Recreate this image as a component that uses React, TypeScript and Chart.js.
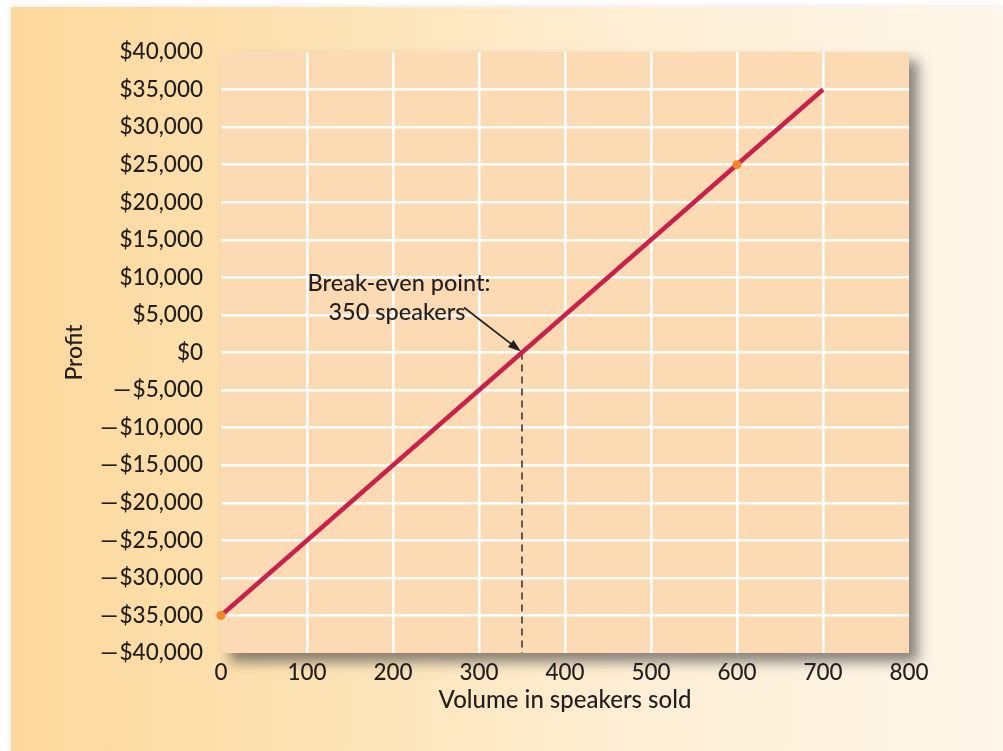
import React, { useEffect, useRef } from "react";
import { Chart, registerables } from "chart.js";

Chart.register(...registerables);

// ---- data ----
const lineVolumes = [0, 700];
const lineProfits = [-35000, 35000];
const markerVolumes = [0, 600];
const markerProfits = [-35000, 25000];
const breakEvenVolume = 350;
const breakEvenProfit = 0;
const yMin = -40000;
const yMax = 40000;
const xMin = 0;
const xMax = 800;
const annotationLines = ["Break-even point:", "350 speakers"];
const xTitle = "Volume in speakers sold";
const yTitle = "Profit";

const FONT = "Lato, 'Open Sans', sans-serif";
const TEXT = "#231F20";
const PLOT_FILL = "#FCDAB3";

function fmt(v: number): string {
  const s = Math.abs(v).toLocaleString("en-US");
  return v < 0 ? "\u2014\u200A$" + s : "$" + s;
}

const plotBgPlugin = {
  id: "plotBg",
  beforeDraw(chart: any) {
    const { ctx, chartArea } = chart;
    const { left, top, right, bottom } = chartArea;
    ctx.save();
    ctx.shadowColor = "rgba(70,70,70,0.65)";
    ctx.shadowBlur = 12;
    ctx.shadowOffsetX = 9;
    ctx.shadowOffsetY = 9;
    ctx.fillStyle = PLOT_FILL;
    ctx.fillRect(left, top, right - left, bottom - top);
    ctx.restore();
    ctx.save();
    ctx.fillStyle = PLOT_FILL;
    ctx.fillRect(left, top, right - left, bottom - top);
    ctx.restore();
  },
};

const annotationPlugin = {
  id: "breakEvenNote",
  afterDatasetsDraw(chart: any) {
    const { ctx, scales } = chart;
    const px = scales.x.getPixelForValue(breakEvenVolume);
    const py = scales.y.getPixelForValue(breakEvenProfit);
    ctx.save();
    ctx.fillStyle = TEXT;
    ctx.font = `500 23.5px ${FONT}`;
    ctx.textAlign = "center";
    ctx.textBaseline = "middle";
    ctx.fillText(annotationLines[0], px - 123, py - 69);
    ctx.fillText(annotationLines[1], px - 125, py - 40);
    // arrow
    const sx = px - 58;
    const sy = py - 45;
    const ang = Math.atan2(py - sy, px - sx);
    const ex = px - 1;
    const ey = py - 1;
    ctx.strokeStyle = TEXT;
    ctx.lineWidth = 1.8;
    ctx.beginPath();
    ctx.moveTo(sx, sy);
    ctx.lineTo(ex - 8 * Math.cos(ang), ey - 8 * Math.sin(ang));
    ctx.stroke();
    const hl = 13;
    const hw = 4.5;
    ctx.beginPath();
    ctx.moveTo(ex, ey);
    ctx.lineTo(
      ex - hl * Math.cos(ang) + hw * Math.sin(ang),
      ey - hl * Math.sin(ang) - hw * Math.cos(ang)
    );
    ctx.lineTo(
      ex - hl * Math.cos(ang) - hw * Math.sin(ang),
      ey - hl * Math.sin(ang) + hw * Math.cos(ang)
    );
    ctx.closePath();
    ctx.fill();
    ctx.restore();
  },
};

export default function App() {
  const ref = useRef<HTMLCanvasElement | null>(null);

  useEffect(() => {
    if (!ref.current) return;
    const lineData = lineVolumes.map((x, i) => ({ x, y: lineProfits[i] }));
    const markerData = markerVolumes.map((x, i) => ({ x, y: markerProfits[i] }));
    const dashData = [
      { x: breakEvenVolume, y: breakEvenProfit },
      { x: breakEvenVolume, y: yMin },
    ];
    const chart = new Chart(ref.current, {
      type: "scatter",
      data: {
        datasets: [
          {
            data: dashData,
            showLine: true,
            borderColor: TEXT,
            borderWidth: 1.4,
            borderDash: [7, 5],
            pointRadius: 0,
            order: 3,
          },
          {
            data: lineData,
            showLine: true,
            borderColor: "#C8214A",
            borderWidth: 4.5,
            pointRadius: 0,
            order: 2,
          },
          {
            data: markerData,
            showLine: false,
            backgroundColor: "#F7862A",
            borderWidth: 0,
            pointRadius: 4.5,
            clip: false,
            order: 1,
          },
        ] as any,
      },
      options: {
        responsive: false,
        animation: false,
        layout: { padding: { left: 0, top: 52, right: 94, bottom: 0 } },
        plugins: {
          legend: { display: false },
          tooltip: { enabled: false },
        },
        scales: {
          x: {
            type: "linear",
            min: xMin,
            max: xMax,
            ticks: {
              stepSize: 100,
              padding: 6,
              color: TEXT,
              font: { family: FONT, size: 22.5, weight: "500" },
              maxRotation: 0,
            },
            grid: {
              color: (c: any) =>
                c.tick && (c.tick.value === xMin || c.tick.value === xMax)
                  ? "rgba(0,0,0,0)"
                  : "#FFFFFF",
              lineWidth: 2.5,
              drawTicks: false,
            },
            border: { display: false },
            title: {
              display: true,
              text: xTitle,
              color: TEXT,
              font: { family: FONT, size: 24, weight: "500" },
              padding: { top: 0, bottom: 36 },
            },
            afterFit: (s: any) => {
              s.height = 98;
            },
          },
          y: {
            type: "linear",
            min: yMin,
            max: yMax,
            ticks: {
              stepSize: 5000,
              padding: 18,
              color: TEXT,
              font: { family: FONT, size: 22.5, weight: "500" },
              callback: (v: any) => fmt(Number(v)),
            },
            grid: {
              color: (c: any) =>
                c.tick && (c.tick.value === yMin || c.tick.value === yMax)
                  ? "rgba(0,0,0,0)"
                  : "#FFFFFF",
              lineWidth: 2.5,
              drawTicks: false,
            },
            border: { display: false },
            title: {
              display: true,
              text: yTitle,
              color: TEXT,
              font: { family: FONT, size: 23, weight: "500" },
              padding: { top: 61, bottom: 0 },
            },
            afterFit: (s: any) => {
              s.width = 221;
            },
          },
        },
      },
      plugins: [plotBgPlugin, annotationPlugin],
    });
    return () => chart.destroy();
  }, []);

  return (
    <div
      style={{
        position: "fixed",
        left: 0,
        top: 0,
        width: 1003,
        height: 751,
        background: "#FFFFFF",
        overflow: "hidden",
      }}
    >
      <div
        style={{
          position: "absolute",
          left: 11,
          top: 7,
          right: 0,
          bottom: 0,
          background:
            "linear-gradient(to right, #FCD89C 0%, #FDE3B4 30%, #FEEFD6 65%, #FEF7EA 100%)",
          boxShadow: "0 0 6px rgba(0,0,0,0.12)",
        }}
      />
      <canvas
        ref={ref}
        width={1003}
        height={751}
        style={{ position: "absolute", left: 0, top: 0, width: 1003, height: 751 }}
      />
    </div>
  );
}
